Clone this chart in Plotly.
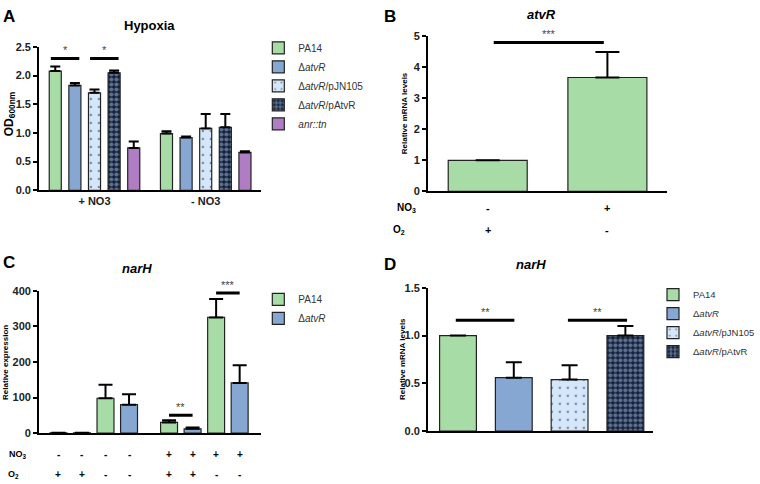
import plotly.graph_objects as go

# ---- data ----
# A: Hypoxia OD600
a_groups = ["+ NO3", "- NO3"]
a_names = ["PA14", "Δ<i>atvR</i>", "Δ<i>atvR</i>/pJN105", "Δ<i>atvR</i>/pAtvR", "<i>anr::tn</i>"]
a_pa14 = [2.08, 0.99]
a_atvr = [1.83, 0.92]
a_pjn105 = [1.70, 1.08]
a_patvr = [2.05, 1.10]
a_anr = [0.74, 0.66]
a_pa14_err = [0.08, 0.04]
a_atvr_err = [0.04, 0.02]
a_pjn105_err = [0.06, 0.25]
a_patvr_err = [0.04, 0.23]
a_anr_err = [0.11, 0.02]

# B: atvR relative mRNA
b_values = [1.0, 3.67]
b_err = [0.0, 0.82]
b_no3 = ["-", "+"]
b_o2 = ["+", "-"]

# C: narH relative expression
c_pa14 = [1, 98, 30, 325]
c_pa14_err = [0, 38, 6, 52]
c_atvr = [1, 80, 12, 141]
c_atvr_err = [0, 29, 4, 50]
c_no3 = ["-", "-", "-", "-", "+", "+", "+", "+"]
c_o2 = ["+", "+", "-", "-", "+", "+", "-", "-"]

# D: narH relative mRNA
d_names = ["PA14", "Δ<i>atvR</i>", "Δ<i>atvR</i>/pJN105", "Δ<i>atvR</i>/pAtvR"]
d_values = [1.0, 0.56, 0.54, 1.0]
d_err = [0.0, 0.16, 0.15, 0.10]

FONT = "Liberation Sans, Arial, sans-serif"
GREEN = "#a8dca6"
BLUE = "#87a7d3"
LIGHT = "#d4e6f9"
NAVY = "#13213b"
PURPLE = "#b07cc4"
EDGE = "#222222"

styles = [
    dict(color=GREEN),
    dict(color=BLUE),
    dict(color=LIGHT, pattern=dict(shape=".", fgcolor="#1f2d45", bgcolor=LIGHT, size=8, solidity=0.08)),
    dict(color=NAVY, pattern=dict(shape=".", fgcolor="#a7c1e4", bgcolor=NAVY, size=5, solidity=0.55)),
    dict(color=PURPLE),
]


def px_x(p):
    return p / 760


def px_y(p):
    return 1 - p / 484


def err(vals, caps):
    # no error bar where the error is zero
    up = [v if v > 0 else None for v in vals]
    return dict(type="data", symmetric=False, array=up, arrayminus=[0] * len(vals),
                color="black", thickness=2, width=caps)


fig = go.Figure()

# ---- panel A ----
a_series = [(a_pa14, a_pa14_err), (a_atvr, a_atvr_err), (a_pjn105, a_pjn105_err),
            (a_patvr, a_patvr_err), (a_anr, a_anr_err)]
for i, (vals, e) in enumerate(a_series):
    fig.add_trace(go.Bar(x=a_groups, y=vals, name=a_names[i], xaxis="x", yaxis="y",
                         marker=dict(**styles[i], line=dict(color=EDGE, width=1.2)),
                         error_y=err(e, 5), legend="legend"))

# ---- panel B ----
fig.add_trace(go.Bar(x=[0, 1], y=b_values, xaxis="x2", yaxis="y2", showlegend=False,
                     width=0.66, offset=-0.33,
                     marker=dict(color=GREEN, line=dict(color=EDGE, width=1.2)),
                     error_y=err(b_err, 12)))

# ---- panel C ----
c_pos = [i + (0.7 if i >= 4 else 0) for i in range(8)]
fig.add_trace(go.Bar(x=c_pos[0::2], y=c_pa14, name="PA14", xaxis="x3", yaxis="y3",
                     width=0.72, offset=-0.36, legend="legend2",
                     marker=dict(color=GREEN, line=dict(color=EDGE, width=1.2)),
                     error_y=err(c_pa14_err, 7)))
fig.add_trace(go.Bar(x=c_pos[1::2], y=c_atvr, name="Δ<i>atvR</i>", xaxis="x3", yaxis="y3",
                     width=0.72, offset=-0.36, legend="legend2",
                     marker=dict(color=BLUE, line=dict(color=EDGE, width=1.2)),
                     error_y=err(c_atvr_err, 7)))

# ---- panel D ----
for i, v in enumerate(d_values):
    fig.add_trace(go.Bar(x=[i], y=[v], name=d_names[i], xaxis="x4", yaxis="y4",
                         width=0.66, offset=-0.33, legend="legend3",
                         marker=dict(**styles[i], line=dict(color=EDGE, width=1.2)),
                         error_y=err([d_err[i]], 8)))

axis_common = dict(showline=True, linecolor="black", linewidth=1.5, showgrid=False,
                   zeroline=False, tickfont=dict(family=FONT, size=11, color="#222", weight="bold"))
yax = dict(axis_common, ticks="outside", ticklen=4, tickwidth=1.5, tickcolor="black")
xax = dict(axis_common, ticks="")

fig.update_layout(
    width=760, height=484, margin=dict(l=0, r=0, t=0, b=0),
    paper_bgcolor="white", plot_bgcolor="white",
    barmode="group", bargap=0.118, bargroupgap=0.385,
    font=dict(family=FONT),
    xaxis=dict(xax, domain=[px_x(39), px_x(262)], anchor="y", range=[-0.5, 1.5]),
    yaxis=dict(yax, domain=[px_y(189), px_y(42)], anchor="x", range=[0, 2.5],
               dtick=0.5, tickformat=".1f"),
    xaxis2=dict(xax, domain=[px_x(429), px_x(669)], anchor="y2", range=[-0.5, 1.5],
                showticklabels=False),
    yaxis2=dict(yax, domain=[px_y(190), px_y(31)], anchor="x2", range=[0, 5], dtick=1),
    xaxis3=dict(xax, domain=[px_x(39), px_x(262)], anchor="y3", range=[-0.83, 8.62],
                showticklabels=False),
    yaxis3=dict(yax, domain=[px_y(438), px_y(292)], anchor="x3", range=[0, 400], dtick=100),
    xaxis4=dict(xax, domain=[px_x(429), px_x(655)], anchor="y4", range=[-0.54, 3.5],
                showticklabels=False),
    yaxis4=dict(yax, domain=[px_y(436), px_y(289)], anchor="x4", range=[0, 1.5],
                dtick=0.5, tickformat=".1f"),
)

leg = dict(xanchor="left", yanchor="top", bgcolor="rgba(0,0,0,0)", itemwidth=30,
           font=dict(family=FONT, size=10, color="#333"), itemclick=False)
fig.update_layout(
    legend=dict(leg, x=px_x(259), y=px_y(28)),
    legend2=dict(leg, x=px_x(259), y=px_y(286)),
    legend3=dict(leg, x=px_x(655), y=px_y(281), font=dict(family=FONT, size=9.5, color="#333")),
)

annotations = []


def note(text, x, y, size, xref="paper", yref="paper", **kw):
    annotations.append(dict(text=text, x=x, y=y, xref=xref, yref=yref, showarrow=False,
                            xanchor=kw.pop("xanchor", "center"),
                            yanchor=kw.pop("yanchor", "middle"),
                            font=dict(family=FONT, size=size, color=kw.pop("color", "black"),
                                      weight=kw.pop("weight", "bold"),
                                      style=kw.pop("style", "normal")), **kw))


# panel letters and titles
note("A", px_x(9), px_y(11), 17)
note("B", px_x(391), px_y(11), 17)
note("C", px_x(9), px_y(263), 17)
note("D", px_x(391), px_y(265), 17)
note("Hypoxia", px_x(150), px_y(20), 13)
note("atvR", px_x(543), px_y(9), 13, style="italic")
note("narH", px_x(137), px_y(269), 13, style="italic")
note("narH", px_x(532), px_y(265), 13, style="italic")

# y axis titles
note("OD<sub>600nm</sub>", px_x(10), px_y(110), 12, textangle=-90)
note("Relative mRNA levels", px_x(405), px_y(110), 8, textangle=-90)
note("Relative expression", px_x(6), px_y(365), 8, textangle=-90)
note("Relative mRNA levels", px_x(403), px_y(362), 8, textangle=-90)

# condition rows
note("NO<sub>3</sub>", px_x(408), px_y(207), 10)
note("O<sub>2</sub>", px_x(400), px_y(230), 10)
for i in range(2):
    note(b_no3[i], i, px_y(207), 11, xref="x2")
    note(b_o2[i], i, px_y(230), 11, xref="x2")
note("NO<sub>3</sub>", px_x(18), px_y(460), 9)
note("O<sub>2</sub>", px_x(14), px_y(480), 9)
for i in range(8):
    note(c_no3[i], c_pos[i], px_y(460), 10, xref="x3")
    note(c_o2[i], c_pos[i], px_y(480), 10, xref="x3")

# significance bars
slot = (1 - 0.118) / 5
sig = [
    ("x", "y", -2 * slot - 0.04, -slot + 0.04, 2.30, "*"),
    ("x", "y", -0.04, slot + 0.04, 2.30, "*"),
    ("x2", "y2", 0.05, 0.97, 4.80, "***"),
    ("x3", "y3", c_pos[4], c_pos[5], 50, "**"),
    ("x3", "y3", c_pos[6], c_pos[7], 394, "***"),
    ("x4", "y4", -0.04, 1.01, 1.16, "**"),
    ("x4", "y4", 1.97, 3.03, 1.16, "**"),
]
shapes = []
for xr, yr, x0, x1, yv, stars in sig:
    shapes.append(dict(type="line", xref=xr, yref=yr, x0=x0, x1=x1, y0=yv, y1=yv,
                       line=dict(color="black", width=3)))
    note(stars, (x0 + x1) / 2, yv, 11, xref=xr, yref=yr, yanchor="bottom",
         color="#444", weight="normal")

fig.update_layout(annotations=annotations, shapes=shapes)

fig.write_html("out.html", config=dict(displayModeBar=False),
               post_script="document.body.style.margin = '0';")
